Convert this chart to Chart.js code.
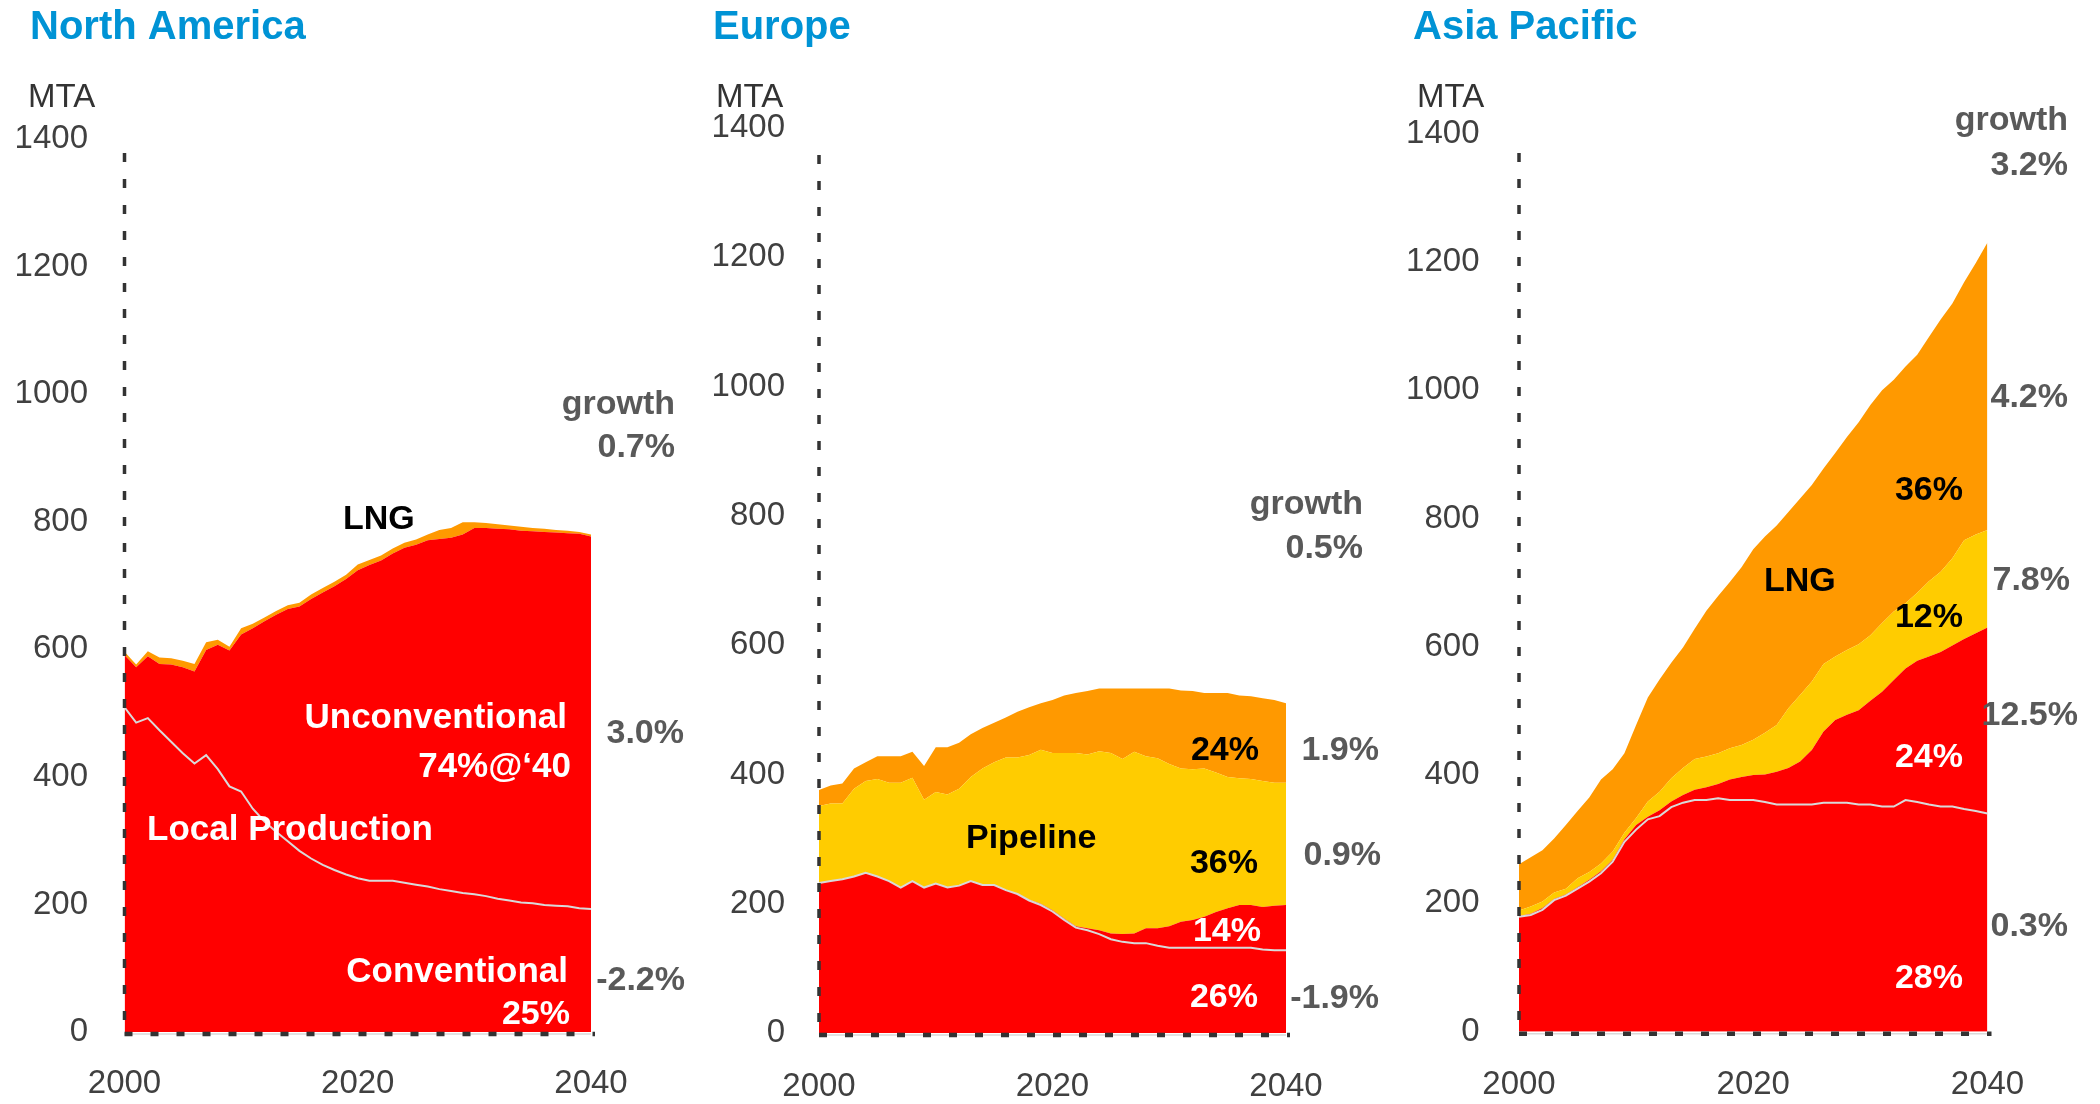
<!DOCTYPE html>
<html>
<head>
<meta charset="utf-8">
<script src="https://cdn.jsdelivr.net/npm/chart.js@4.4.1/dist/chart.umd.min.js"></script>
<style>
  html, body { margin: 0; padding: 0; background: #fff; }
  body { width: 2100px; height: 1104px; position: relative; overflow: hidden; }
  canvas { position: absolute; top: 0; }
</style>
</head>
<body>
<canvas id="chart-na" width="700" height="1104" style="left:0px"></canvas>
<canvas id="chart-eu" width="700" height="1104" style="left:700px"></canvas>
<canvas id="chart-ap" width="700" height="1104" style="left:1400px"></canvas>
<script>
// Anos (eixo x) e escala (eixo y)
const years = [2000, 2001, 2002, 2003, 2004, 2005, 2006, 2007, 2008, 2009,
               2010, 2011, 2012, 2013, 2014, 2015, 2016, 2017, 2018, 2019,
               2020, 2021, 2022, 2023, 2024, 2025, 2026, 2027, 2028, 2029,
               2030, 2031, 2032, 2033, 2034, 2035, 2036, 2037, 2038, 2039, 2040];
const xTicks = [2000, 2020, 2040];
const yTicks = [0, 200, 400, 600, 800, 1000, 1200, 1400];

// North America (MTA)
const naConventional = [509, 485, 492, 473, 455, 437, 421, 434, 412, 385, 377, 350, 330, 314, 299, 284, 272, 262, 254, 247, 241, 237, 237, 237, 234, 231, 228, 224, 221, 218, 216, 213, 209, 206, 203, 202, 199, 198, 197, 194, 193];
const naUnconventional = [82, 87, 97, 104, 121, 135, 144, 165, 195, 213, 246, 283, 314, 340, 364, 383, 407, 427, 445, 463, 483, 495, 502, 513, 525, 533, 543, 549, 554, 562, 574, 577, 580, 582, 583, 583, 585, 585, 585, 587, 584];
const naLng = [5, 4, 8, 10, 10, 10, 12, 12, 8, 6, 10, 7, 6, 6, 6, 6, 7, 7, 7, 7, 9, 8, 8, 8, 8, 8, 9, 14, 15, 19, 9, 8, 7, 6, 6, 5, 5, 4, 4, 3, 3];

// Europe (MTA)
const euConventional = [232, 235, 238, 242, 248, 242, 235, 225, 235, 225, 231, 225, 228, 235, 229, 229, 221, 215, 205, 198, 188, 175, 163, 159, 153, 145, 141, 139, 139, 135, 132, 132, 132, 132, 132, 132, 132, 132, 129, 128, 128];
const euUnconventional = [0, 0, 0, 0, 0, 0, 0, 0, 0, 0, 0, 0, 0, 0, 0, 0, 0, 1, 1, 2, 2, 2, 2, 3, 6, 9, 12, 15, 23, 27, 33, 40, 43, 48, 55, 61, 66, 66, 66, 69, 70];
const euPipeline = [119, 120, 117, 136, 142, 151, 152, 162, 160, 136, 142, 144, 150, 161, 180, 190, 205, 210, 224, 238, 243, 256, 268, 269, 277, 279, 271, 281, 266, 263, 251, 237, 233, 229, 216, 203, 196, 195, 195, 190, 189];
const euLng = [25, 28, 31, 31, 29, 35, 41, 41, 40, 52, 69, 73, 71, 66, 63, 61, 62, 71, 74, 72, 82, 89, 93, 98, 97, 100, 109, 98, 105, 108, 117, 121, 121, 117, 123, 130, 128, 128, 128, 128, 123];

// Asia Pacific (MTA)
const apConventional = [179, 182, 190, 205, 212, 223, 234, 247, 265, 296, 315, 331, 336, 350, 357, 361, 361, 364, 361, 361, 361, 358, 354, 354, 354, 354, 357, 357, 357, 354, 354, 351, 351, 361, 358, 354, 351, 351, 347, 344, 340];
const apUnconventional = [1, 2, 3, 2, 2, 2, 3, 3, 3, 4, 7, 4, 9, 9, 12, 16, 20, 22, 32, 36, 39, 43, 51, 57, 67, 85, 111, 129, 137, 147, 162, 179, 197, 205, 220, 231, 241, 251, 265, 277, 290];
const apPipeline = [9, 11, 10, 10, 9, 14, 12, 12, 13, 10, 11, 24, 29, 36, 42, 48, 48, 48, 49, 50, 55, 65, 73, 93, 104, 107, 105, 99, 101, 103, 102, 107, 107, 102, 106, 117, 125, 136, 154, 154, 152];
const apLng = [72, 77, 80, 84, 99, 105, 116, 131, 128, 124, 145, 162, 175, 180, 188, 203, 227, 245, 259, 277, 297, 306, 311, 306, 306, 306, 305, 317, 332, 346, 359, 363, 361, 369, 371, 381, 393, 397, 402, 423, 448];

// Cores
const RED = '#FF0000';
const ORANGE = '#FF9900';
const YELLOW = '#FFCC00';
const LINE_GREY = '#D9D9D9';
const AXIS_GREY = '#333333';
const TEXT_GREY = '#595959';
const TICK_GREY = '#404040';
const BLUE = '#0093D5';
const FONT = "'Liberation Sans', Arial, sans-serif";

// Estilos dos textos
const styles = {
    title:  { font: 'bold 40px ' + FONT, color: BLUE },
    unit:   { font: '33px ' + FONT, color: AXIS_GREY },
    growth: { font: 'bold 34px ' + FONT, color: TEXT_GREY },
    black:  { font: 'bold 34px ' + FONT, color: '#000000' },
    white:  { font: 'bold 34px ' + FONT, color: '#FFFFFF' },
    word:   { font: 'bold 35px ' + FONT, color: '#FFFFFF' }
};

function montarPainel(canvasId, series, box, notes) {
    const ctx = document.getElementById(canvasId).getContext('2d');

    const datasets = series.map((s, i) => ({
        label: s.name,
        data: years.map((yr, k) => ({ x: yr, y: s.values[k] })),
        backgroundColor: s.color,
        borderColor: s.line ? LINE_GREY : s.color,
        borderWidth: s.line ? 2 : 0,
        fill: i === 0 ? 'origin' : '-1',
        pointRadius: 0,
        tension: 0
    }));

    // Eixos tracejados (o border.dash do Chart.js só vale para a grade)
    const dashedAxes = {
        id: 'dashedAxes',
        afterDatasetsDraw(chart) {
            const { left, right, bottom } = chart.chartArea;
            const c = chart.ctx;
            c.save();
            c.strokeStyle = LINE_GREY;
            c.lineWidth = 1.5;
            c.beginPath();
            c.moveTo(left, bottom + 2);
            c.lineTo(right, bottom + 2);
            c.stroke();

            c.strokeStyle = AXIS_GREY;
            c.lineWidth = 3.5;
            c.setLineDash([9, 17]);
            c.beginPath();
            c.moveTo(left, box.axisStart);
            c.lineTo(left, bottom);
            c.stroke();

            c.lineWidth = 4.5;
            c.setLineDash([8, 18]);
            c.beginPath();
            c.moveTo(left, bottom + 2);
            c.lineTo(right + 4, bottom + 2);
            c.stroke();
            c.restore();
        }
    };

    // Plugin simples para os textos do gráfico
    const notesPlugin = {
        id: 'notes',
        afterDraw(chart) {
            const c = chart.ctx;
            c.save();
            c.textBaseline = 'alphabetic';
            notes.forEach(([text, x, y, align, style]) => {
                c.font = styles[style].font;
                c.fillStyle = styles[style].color;
                c.textAlign = align;
                c.fillText(text, x, y);
            });
            c.restore();
        }
    };

    return new Chart(ctx, {
        type: 'line',
        data: { datasets },
        plugins: [dashedAxes, notesPlugin],
        options: {
            responsive: false,
            animation: false,
            devicePixelRatio: 1,
            layout: { padding: { left: 0, top: box.top, right: 700 - box.right, bottom: 0 } },
            plugins: { legend: { display: false }, tooltip: { enabled: false } },
            scales: {
                x: {
                    type: 'linear',
                    min: 2000,
                    max: 2040,
                    afterFit: (scale) => { scale.height = 1104 - box.bottom; },
                    afterBuildTicks: (scale) => { scale.ticks = xTicks.map(v => ({ value: v })); },
                    grid: { display: false, drawTicks: false },
                    border: { display: false },
                    ticks: {
                        padding: box.xPad,
                        color: TICK_GREY,
                        font: { family: FONT, size: 33 },
                        maxRotation: 0,
                        callback: (v) => String(v)
                    }
                },
                y: {
                    stacked: true,
                    min: 0,
                    max: 1400,
                    afterFit: (scale) => { scale.width = box.left; },
                    afterBuildTicks: (scale) => { scale.ticks = yTicks.map(v => ({ value: v })); },
                    grid: { display: false, drawTicks: false },
                    border: { display: false },
                    ticks: {
                        padding: box.yPad,
                        color: TICK_GREY,
                        font: { family: FONT, size: 33 },
                        callback: (v) => String(v)
                    }
                }
            }
        }
    });
}

montarPainel('chart-na', [
    { name: 'Conventional', values: naConventional, color: RED, line: true },
    { name: 'Unconventional', values: naUnconventional, color: RED },
    { name: 'LNG', values: naLng, color: ORANGE }
], { left: 124.5, right: 591, top: 139, bottom: 1032, xPad: 32, yPad: 36.5, axisStart: 153 }, [
    ['North America', 30, 39, 'left', 'title'],
    ['MTA', 28, 107, 'left', 'unit'],
    ['growth', 675, 414, 'right', 'growth'],
    ['0.7%', 675, 457, 'right', 'growth'],
    ['3.0%', 684, 743, 'right', 'growth'],
    ['-2.2%', 685, 990, 'right', 'growth'],
    ['LNG', 343, 529, 'left', 'black'],
    ['Unconventional', 567, 728, 'right', 'word'],
    ['74%@\u201840', 571, 777, 'right', 'word'],
    ['Local Production', 147, 840, 'left', 'word'],
    ['Conventional', 568, 982, 'right', 'word'],
    ['25%', 570, 1024, 'right', 'white']
]);

montarPainel('chart-eu', [
    { name: 'Conventional', values: euConventional, color: RED, line: true },
    { name: 'Unconventional', values: euUnconventional, color: RED },
    { name: 'Pipeline', values: euPipeline, color: YELLOW },
    { name: 'LNG', values: euLng, color: ORANGE }
], { left: 119, right: 586, top: 128, bottom: 1033, xPad: 34, yPad: 34, axisStart: 155 }, [
    ['Europe', 13, 39, 'left', 'title'],
    ['MTA', 16, 107, 'left', 'unit'],
    ['growth', 663, 514, 'right', 'growth'],
    ['0.5%', 663, 558, 'right', 'growth'],
    ['1.9%', 679, 760, 'right', 'growth'],
    ['0.9%', 681, 865, 'right', 'growth'],
    ['-1.9%', 679, 1008, 'right', 'growth'],
    ['24%', 559, 760, 'right', 'black'],
    ['Pipeline', 266, 848, 'left', 'black'],
    ['36%', 558, 873, 'right', 'black'],
    ['14%', 561, 941, 'right', 'white'],
    ['26%', 558, 1007, 'right', 'white']
]);

montarPainel('chart-ap', [
    { name: 'Conventional', values: apConventional, color: RED, line: true },
    { name: 'Unconventional', values: apUnconventional, color: RED },
    { name: 'Pipeline', values: apPipeline, color: YELLOW },
    { name: 'LNG', values: apLng, color: ORANGE }
], { left: 119, right: 587.5, top: 133.5, bottom: 1031.7, xPad: 33.5, yPad: 39.5, axisStart: 153 }, [
    ['Asia Pacific', 13, 39, 'left', 'title'],
    ['MTA', 17, 107, 'left', 'unit'],
    ['growth', 668, 130, 'right', 'growth'],
    ['3.2%', 668, 175, 'right', 'growth'],
    ['4.2%', 668, 407, 'right', 'growth'],
    ['7.8%', 670, 590, 'right', 'growth'],
    ['12.5%', 678, 725, 'right', 'growth'],
    ['0.3%', 668, 936, 'right', 'growth'],
    ['36%', 563, 500, 'right', 'black'],
    ['LNG', 364, 591, 'left', 'black'],
    ['12%', 563, 627, 'right', 'black'],
    ['24%', 563, 767, 'right', 'white'],
    ['28%', 563, 988, 'right', 'white']
]);
</script>
</body>
</html>
